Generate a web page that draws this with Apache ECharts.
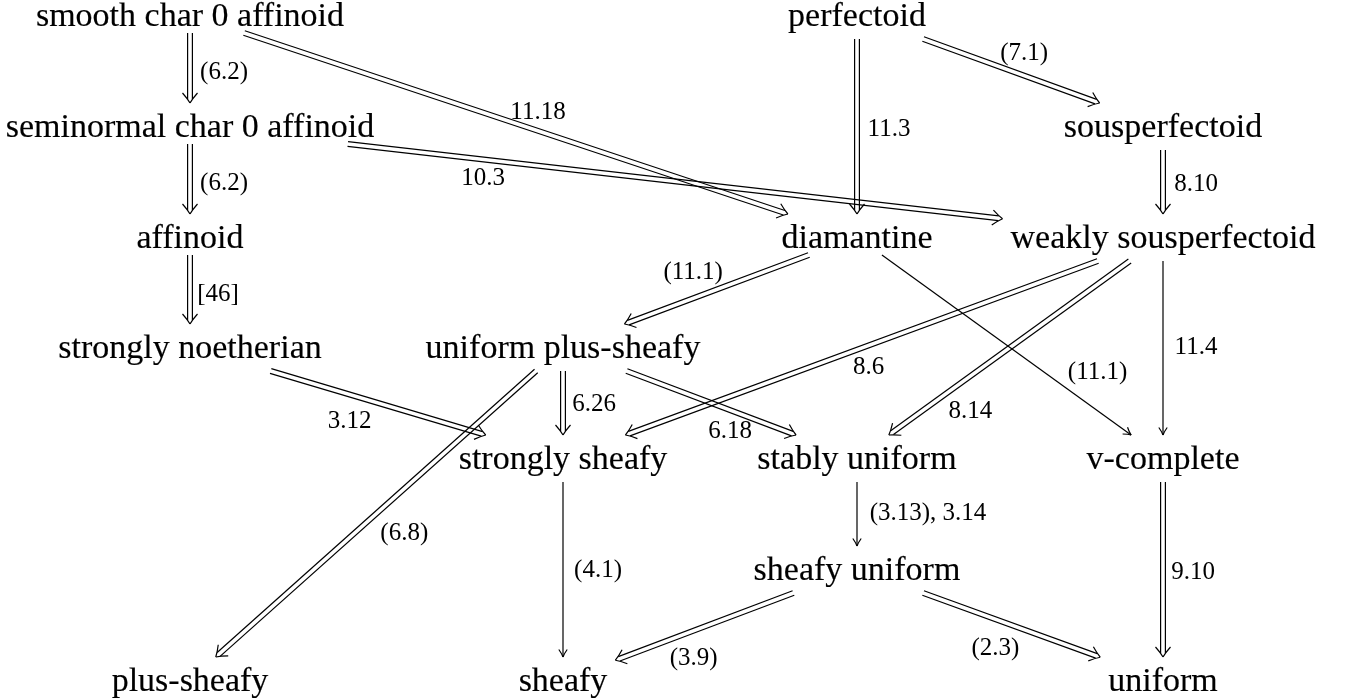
<!DOCTYPE html>
<html><head><meta charset="utf-8">
<script src="https://cdn.jsdelivr.net/npm/echarts@6/dist/echarts.min.js"></script>
<style>html,body{margin:0;padding:0;background:#fff}#c{width:1347px;height:699px}</style>
</head><body><div id="c"></div>
<script>
// ---------- data ----------
const nodeNames = [
  'smooth char 0 affinoid', 'perfectoid',
  'seminormal char 0 affinoid', 'sousperfectoid',
  'affinoid', 'diamantine', 'weakly sousperfectoid',
  'strongly noetherian', 'uniform plus-sheafy',
  'strongly sheafy', 'stably uniform', 'v-complete',
  'sheafy uniform',
  'plus-sheafy', 'sheafy', 'uniform'
];
// diagram coordinates of each node (column position, row position)
const nodeX = [190, 857, 190, 1163, 190, 857, 1163, 190, 563, 563, 857, 1163, 857, 190, 563, 1163];
const nodeY = [15, 15, 126, 126, 237, 237, 237, 347, 347, 458, 458, 458, 569, 680, 680, 680];

const edgeFrom = [0, 2, 4, 0, 2, 1, 1, 3, 5, 5, 6, 6, 6, 7, 8, 8, 8, 9, 10, 11, 12, 12];
const edgeTo   = [2, 4, 7, 5, 6, 5, 3, 6, 8, 11, 9, 10, 11, 9, 9, 10, 13, 14, 12, 15, 14, 15];
const edgeKind = ['double','double','double','double','double','double','double','double','double','single',
                  'double','double','single','double','double','double','double','single','single','double','double','double'];
const edgeLabels = ['(6.2)', '(6.2)', '[46]', '11.18', '10.3', '11.3', '(7.1)', '8.10', '(11.1)', '(11.1)',
                    '8.6', '8.14', '11.4', '3.12', '6.26', '6.18', '(6.8)', '(4.1)', '(3.13), 3.14', '9.10', '(3.9)', '(2.3)'];

// ---------- layout (label placement: position along edge, signed normal offset) ----------
const labelPos = [0.55, 0.55, 0.55, 0.53, 0.21, 0.51, 0.53, 0.52, 0.58, 0.79,
                  0.50, 0.73, 0.49, 0.40, 0.51, 0.65, 0.48, 0.50, 0.48, 0.51, 0.61, 0.46];
const labelOff = [34, 34, 28, 18, -18, 32, 22, 33, -25, 32,
                  20, 28, 33, -25, 31, -19, 33, 35, 71, 30, 25, -27];

const FONT = '"Liberation Serif", "Times New Roman", serif';
const NODE_SIZE = 34, LABEL_SIZE = 25;

const measureCtx = document.createElement('canvas').getContext('2d');
function textW(t, size) { measureCtx.font = size + 'px ' + FONT; return measureCtx.measureText(t).width; }

const boxes = nodeNames.map(n => ({
  hw: textW(n, NODE_SIZE) / 2 + 8,
  top: 23,
  bottom: /[gjpqy]/.test(n) ? 24 : 18
}));

function clip(c, d, b) {
  let s = Infinity;
  if (Math.abs(d[0]) > 1e-9) s = Math.min(s, b.hw / Math.abs(d[0]));
  if (d[1] > 1e-9) s = Math.min(s, b.bottom / d[1]);
  if (d[1] < -1e-9) s = Math.min(s, b.top / -d[1]);
  return [c[0] + d[0] * s, c[1] + d[1] * s];
}

const chart = echarts.init(document.getElementById('c'), null, { renderer: 'canvas' });
const LW = 1.2;
const INK = '#000';

function renderEdge(params, api) {
  const i = params.dataIndex;
  const a = edgeFrom[i], b = edgeTo[i];
  const c0 = api.coord([nodeX[a], nodeY[a]]);
  const c1 = api.coord([nodeX[b], nodeY[b]]);
  const len0 = Math.hypot(c1[0] - c0[0], c1[1] - c0[1]);
  const d = [(c1[0] - c0[0]) / len0, (c1[1] - c0[1]) / len0];
  const S = clip(c0, d, boxes[a]);
  const E = clip(c1, [-d[0], -d[1]], boxes[b]);
  const n = [d[1], -d[0]]; // left normal
  const children = [];
  const P = (base, along, perp) => [base[0] + d[0] * along + n[0] * perp, base[1] + d[1] * along + n[1] * perp];
  if (edgeKind[i] === 'double') {
    const g = 2.4;
    for (const sgn of [1, -1]) {
      const p0 = P(S, 0, sgn * g), p1 = P(E, -4, sgn * g);
      children.push({ type: 'line', shape: { x1: p0[0], y1: p0[1], x2: p1[0], y2: p1[1] },
        style: { stroke: INK, lineWidth: LW } });
      const arm = P(E, -10, sgn * 7.5), cp = P(E, -4.5, sgn * 2.6);
      children.push({ type: 'bezierCurve', shape: { x1: arm[0], y1: arm[1], x2: E[0], y2: E[1], cpx1: cp[0], cpy1: cp[1] },
        style: { stroke: INK, lineWidth: LW, fill: null } });
    }
  } else {
    children.push({ type: 'line', shape: { x1: S[0], y1: S[1], x2: E[0], y2: E[1] },
      style: { stroke: INK, lineWidth: LW } });
    for (const sgn of [1, -1]) {
      const arm = P(E, -7.5, sgn * 4.2), cp = P(E, -3, sgn * 1.0);
      children.push({ type: 'bezierCurve', shape: { x1: arm[0], y1: arm[1], x2: E[0], y2: E[1], cpx1: cp[0], cpy1: cp[1] },
        style: { stroke: INK, lineWidth: LW, fill: null } });
    }
  }
  const len = Math.hypot(E[0] - S[0], E[1] - S[1]);
  const L = P(S, len * labelPos[i], labelOff[i]);
  children.push({ type: 'text', x: L[0], y: L[1] + 1,
    style: { text: edgeLabels[i], fill: INK, fontSize: LABEL_SIZE, fontFamily: FONT, align: 'center', verticalAlign: 'middle' } });
  return { type: 'group', children };
}

function renderNode(params, api) {
  const i = params.dataIndex;
  const p = api.coord([nodeX[i], nodeY[i]]);
  return { type: 'text', x: p[0], y: p[1] + 2,
    style: { text: nodeNames[i], fill: INK, stroke: INK, lineWidth: 0.15, fontSize: NODE_SIZE, fontFamily: FONT, align: 'center', verticalAlign: 'middle' } };
}

chart.setOption({
  backgroundColor: '#fff',
  animation: false,
  grid: { left: 0, right: 0, top: 0, bottom: 0 },
  xAxis: { type: 'value', min: 0, max: 1347, show: false },
  yAxis: { type: 'value', min: 0, max: 699, inverse: true, show: false },
  series: [
    { type: 'custom', coordinateSystem: 'cartesian2d', renderItem: renderEdge,
      data: edgeFrom.map((f, i) => [nodeX[f], nodeY[f], nodeX[edgeTo[i]], nodeY[edgeTo[i]]]), silent: true, clip: false },
    { type: 'custom', coordinateSystem: 'cartesian2d', renderItem: renderNode,
      data: nodeNames.map((n, i) => [nodeX[i], nodeY[i]]), silent: true, clip: false }
  ]
});
</script></body></html>
